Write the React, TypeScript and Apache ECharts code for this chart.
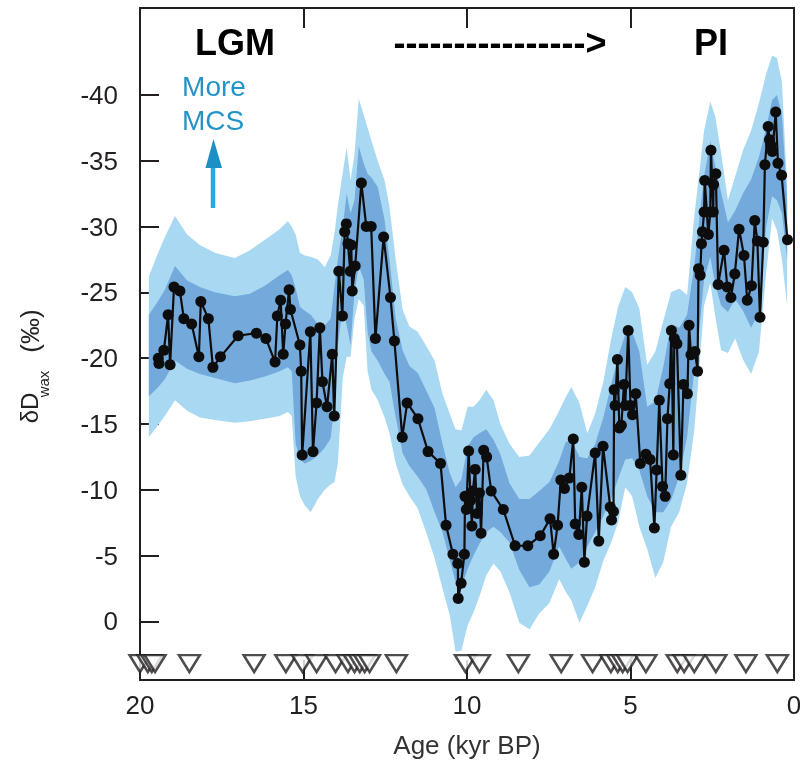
import React, { useEffect, useRef } from 'react';
import * as echarts from 'echarts';

const FONT = '"Liberation Sans", Arial, Helvetica, sans-serif';

// Uncertainty envelope (age in kyr BP) — 95% (light) and 68% (dark) bands
const bandAge = [19.73, 19.48, 19.24, 18.93, 18.56, 18.17, 17.71, 17.10, 16.64, 16.18, 15.73, 15.48, 15.36, 15.24, 15.11, 14.96, 14.78, 14.56, 14.35, 14.17, 14.05, 13.95, 13.80, 13.68, 13.56, 13.44, 13.31, 13.16, 13.04, 12.92, 12.73, 12.52, 12.37, 12.18, 11.97, 11.76, 11.51, 11.24, 10.99, 10.75, 10.53, 10.35, 10.17, 9.98, 9.80, 9.62, 9.41, 9.19, 8.98, 8.70, 8.40, 8.09, 7.79, 7.48, 7.18, 6.99, 6.81, 6.56, 6.32, 6.08, 5.83, 5.59, 5.37, 5.16, 4.95, 4.73, 4.49, 4.24, 4.00, 3.76, 3.51, 3.27, 3.05, 2.90, 2.75, 2.56, 2.41, 2.23, 2.02, 1.80, 1.56, 1.31, 1.07, 0.85, 0.67, 0.52, 0.37, 0.21];
const lightUpper = [-26.2, -27.8, -29.2, -30.8, -29.4, -28.6, -28.0, -27.6, -28.2, -29.0, -29.8, -30.4, -30.0, -29.4, -28.0, -27.8, -27.7, -27.5, -26.9, -27.8, -29.5, -31.6, -34.1, -36.0, -33.5, -35.5, -39.7, -38.5, -37.5, -36.5, -35.0, -33.5, -31.5, -27.5, -23.7, -22.4, -22.0, -20.9, -19.8, -17.3, -15.8, -14.6, -14.5, -16.3, -16.3, -16.8, -17.6, -16.8, -15.0, -13.5, -12.5, -12.6, -13.6, -14.6, -16.0, -17.0, -17.8, -16.6, -14.3, -15.8, -18.2, -21.5, -24.0, -25.4, -25.0, -23.8, -19.5, -20.5, -22.8, -25.0, -25.3, -24.8, -30.8, -34.0, -37.3, -39.5, -38.4, -35.6, -32.0, -33.8, -35.8, -37.3, -39.4, -41.6, -43.0, -42.8, -41.0, -33.0];
const darkUpper = [-23.3, -24.2, -25.2, -27.0, -25.9, -25.4, -25.0, -24.7, -24.9, -25.5, -26.3, -26.7, -26.3, -25.3, -23.9, -23.6, -23.3, -22.6, -22.5, -23.0, -25.5, -27.5, -30.0, -32.5, -31.0, -32.0, -36.1, -34.8, -34.0, -33.7, -33.0, -30.5, -27.5, -23.0, -20.6, -19.4, -18.9, -17.5, -16.2, -13.5, -11.3, -10.2, -10.8, -13.3, -14.0, -14.3, -14.6, -13.8, -12.7, -10.5, -9.3, -9.3, -9.9, -10.6, -12.2, -13.6, -13.8, -12.5, -12.4, -13.5, -15.5, -18.0, -20.2, -21.8, -22.0, -20.5, -16.3, -16.7, -19.3, -22.6, -22.3, -23.3, -27.0, -30.5, -33.8, -36.5, -34.6, -32.6, -30.3, -31.2, -32.5, -33.6, -35.3, -37.5, -39.6, -40.0, -38.5, -32.0];
const darkLower = [-17.1, -17.7, -18.4, -19.8, -19.2, -18.8, -18.5, -18.1, -18.3, -18.6, -19.0, -19.3, -19.0, -13.5, -12.3, -12.0, -12.2, -12.6, -13.2, -13.9, -16.5, -20.9, -23.9, -22.5, -21.0, -25.0, -27.0, -26.0, -22.0, -20.5, -19.8, -18.8, -18.2, -15.5, -12.8, -11.8, -11.0, -10.0, -8.3, -6.8, -4.7, -3.0, -2.6, -4.0, -5.0, -5.9, -6.8, -7.2, -6.8, -6.0, -3.9, -2.6, -2.8, -3.8, -5.7, -4.8, -4.0, -4.5, -5.7, -6.8, -8.0, -9.3, -10.9, -12.3, -12.4, -11.5, -9.5, -8.3, -8.3, -9.2, -11.0, -14.0, -19.0, -22.0, -26.0, -27.7, -25.6, -24.0, -23.5, -24.5, -23.6, -22.3, -23.5, -30.0, -32.3, -32.0, -31.0, -27.5];
const lightLower = [-14.0, -14.8, -15.6, -16.8, -16.0, -15.5, -15.3, -15.1, -15.2, -15.4, -15.6, -15.9, -15.6, -11.0, -9.5, -8.8, -8.3, -9.3, -10.0, -10.4, -10.6, -12.0, -18.5, -20.1, -20.1, -23.0, -24.5, -24.0, -19.0, -17.6, -16.8, -15.5, -14.3, -12.0, -10.4, -9.5, -8.6, -6.7, -4.8, -2.5, -0.5, 2.3, 2.2, 0.3, -0.7, -1.9, -3.5, -4.4, -3.8, -2.2, 0.1, 0.6, -0.6, -1.4, -3.2, -2.3, -1.6, 0.1, -1.2, -2.6, -4.6, -6.0, -7.6, -10.2, -9.5, -7.2, -5.5, -3.3, -4.5, -7.2, -8.3, -10.5, -14.5, -19.1, -24.0, -25.7, -23.2, -20.6, -20.4, -21.5, -19.9, -18.8, -20.5, -26.5, -30.6, -29.7, -27.5, -24.0];

// Measured dD wax samples
const sampleAge = [19.44, 19.42, 19.27, 19.14, 19.08, 18.96, 18.78, 18.66, 18.42, 18.20, 18.14, 17.91, 17.77, 17.54, 17.00, 16.44, 16.15, 15.87, 15.80, 15.70, 15.62, 15.55, 15.44, 15.40, 15.11, 15.07, 15.04, 14.79, 14.71, 14.60, 14.50, 14.42, 14.28, 14.12, 14.06, 13.92, 13.81, 13.74, 13.69, 13.64, 13.57, 13.54, 13.51, 13.42, 13.23, 13.08, 12.93, 12.80, 12.55, 12.34, 12.22, 11.98, 11.83, 11.50, 11.19, 10.81, 10.64, 10.43, 10.28, 10.27, 10.18, 10.08, 10.06, 10.02, 9.95, 9.89, 9.85, 9.82, 9.75, 9.69, 9.62, 9.57, 9.49, 9.40, 9.26, 8.89, 8.53, 8.14, 7.76, 7.46, 7.35, 7.23, 7.13, 7.02, 6.87, 6.75, 6.69, 6.58, 6.49, 6.41, 6.33, 6.08, 5.97, 5.84, 5.62, 5.58, 5.52, 5.50, 5.47, 5.40, 5.34, 5.28, 5.20, 5.16, 5.07, 5.00, 4.94, 4.84, 4.70, 4.53, 4.40, 4.27, 4.20, 4.12, 4.02, 3.94, 3.87, 3.80, 3.75, 3.69, 3.66, 3.58, 3.46, 3.38, 3.26, 3.21, 3.15, 3.03, 2.95, 2.92, 2.87, 2.83, 2.80, 2.75, 2.73, 2.62, 2.56, 2.54, 2.47, 2.46, 2.39, 2.32, 2.14, 2.04, 1.93, 1.81, 1.68, 1.53, 1.43, 1.30, 1.20, 1.12, 1.04, 0.94, 0.89, 0.79, 0.75, 0.71, 0.66, 0.56, 0.49, 0.38, 0.20];
const sampleDD = [-20.0, -19.6, -20.6, -23.3, -19.5, -25.4, -25.1, -23.0, -22.6, -20.1, -24.3, -23.0, -19.3, -20.1, -21.7, -21.9, -21.5, -19.7, -23.2, -24.4, -20.3, -22.6, -25.2, -23.7, -21.0, -19.0, -12.65, -22.0, -12.9, -16.6, -22.3, -18.2, -16.3, -20.3, -15.6, -26.6, -23.2, -29.6, -30.2, -28.7, -26.6, -28.6, -25.1, -27.0, -33.3, -30.0, -30.0, -21.5, -29.2, -24.6, -21.3, -14.0, -16.6, -15.4, -12.9, -12.0, -7.3, -5.1, -4.4, -1.75, -2.9, -5.1, -9.5, -8.5, -12.95, -9.2, -7.25, -9.9, -11.55, -8.2, -9.75, -6.7, -13.0, -12.5, -9.9, -8.5, -5.75, -5.75, -6.5, -7.8, -5.1, -7.3, -10.75, -10.1, -10.9, -13.85, -7.4, -6.6, -10.2, -4.5, -8.0, -12.8, -6.1, -13.3, -8.7, -7.7, -8.35, -17.6, -16.4, -19.9, -14.7, -14.9, -18.0, -16.4, -22.1, -16.4, -15.7, -17.3, -12.0, -12.7, -12.3, -7.1, -11.5, -16.8, -10.25, -9.5, -15.4, -18.05, -22.1, -12.65, -21.5, -21.1, -11.1, -18.0, -17.3, -22.5, -20.25, -20.5, -19.0, -26.8, -26.3, -28.7, -29.6, -31.1, -33.5, -29.4, -31.1, -35.8, -31.1, -33.2, -34.0, -25.6, -28.2, -25.4, -24.6, -26.4, -29.8, -27.8, -24.4, -25.5, -30.45, -28.9, -23.1, -28.8, -34.7, -37.6, -36.6, -36.2, -35.7, -38.7, -34.8, -33.9, -29.0];

// Age-control points (open triangles along the bottom)
const controlAge = [20.0, 19.76, 19.64, 19.54, 18.49, 16.51, 15.54, 15.03, 14.6, 14.02, 13.64, 13.44, 13.28, 13.13, 12.98, 12.16, 10.05, 9.62, 8.43, 7.12, 6.16, 5.6, 5.39, 5.24, 5.09, 4.53, 3.57, 3.36, 3.05, 2.39, 1.47, 0.51];
const controlRowValue = 3.2;

const yTickValues = [-40, -35, -30, -25, -20, -15, -10, -5, 0];
const yMin = -46.6;
const yMax = 4.45;

const AXIS_COLOR = '#231f20';
const LIGHT = '#a9d9f2';
const DARK = '#73a9db';

function bandSeries(name: string, upper: number[], lower: number[], color: string) {
  return {
    type: 'custom',
    name,
    coordinateSystem: 'cartesian2d',
    xAxisIndex: 0,
    yAxisIndex: 0,
    silent: true,
    data: bandAge.map((a, i) => [a, upper[i], lower[i]]),
    encode: { x: 0, y: [1, 2] },
    renderItem: (params: any, api: any) => {
      if (params.dataIndex !== 0) return null;
      const pts: number[][] = [];
      for (let i = 0; i < bandAge.length; i++) pts.push(api.coord([bandAge[i], upper[i]]));
      for (let i = bandAge.length - 1; i >= 0; i--) pts.push(api.coord([bandAge[i], lower[i]]));
      return { type: 'polygon', shape: { points: pts }, style: { fill: color } };
    },
  };
}

export default function App() {
  const ref = useRef<HTMLDivElement>(null);

  useEffect(() => {
    if (!ref.current) return;
    const chart = echarts.init(ref.current, null, { renderer: 'svg' });
    const txt = (x: number, y: number, text: string, font: string, fill: string, extra: any = {}) => ({
      type: 'text',
      x,
      y,
      ...extra,
      style: { text, font, fill, textAlign: 'center', textVerticalAlign: 'middle', align: 'center', verticalAlign: 'middle' },
    });
    chart.setOption({
      animation: false,
      textStyle: { fontFamily: FONT },
      grid: { left: 140, right: 6, top: 8, bottom: 83, outerBoundsMode: 'none', containLabel: false },
      xAxis: [
        {
          type: 'value', min: 0, max: 20, interval: 5, inverse: true, position: 'bottom',
          axisLine: { show: true, onZero: false, lineStyle: { color: AXIS_COLOR, width: 2 } },
          axisTick: { show: true, inside: true, length: 20, lineStyle: { color: AXIS_COLOR, width: 2 } },
          axisLabel: { fontSize: 26, color: AXIS_COLOR, margin: 12, fontFamily: FONT },
          splitLine: { show: false },
          name: 'Age (kyr BP)', nameLocation: 'middle', nameGap: 52,
          nameTextStyle: { fontSize: 26, color: '#333', fontFamily: FONT },
        },
        {
          type: 'value', min: 0, max: 20, interval: 5, inverse: true, position: 'top',
          axisLine: { show: true, onZero: false, lineStyle: { color: AXIS_COLOR, width: 2 } },
          axisTick: { show: true, inside: true, length: 20, lineStyle: { color: AXIS_COLOR, width: 2 } },
          axisLabel: { show: false },
          splitLine: { show: false },
        },
      ],
      yAxis: [
        {
          type: 'value', min: yMin, max: yMax, inverse: true, position: 'left',
          axisLine: { show: true, onZero: false, lineStyle: { color: AXIS_COLOR, width: 2 } },
          axisTick: { show: true, inside: true, length: 19, customValues: yTickValues, lineStyle: { color: AXIS_COLOR, width: 2 } },
          axisLabel: { customValues: yTickValues, fontSize: 26, color: AXIS_COLOR, margin: 22, fontFamily: FONT },
          splitLine: { show: false },
        },
        {
          type: 'value', min: yMin, max: yMax, inverse: true, position: 'right',
          axisLine: { show: true, onZero: false, lineStyle: { color: AXIS_COLOR, width: 2 } },
          axisTick: { show: false },
          axisLabel: { show: false },
          splitLine: { show: false },
        },
      ],
      series: [
        bandSeries('95%', lightUpper, lightLower, LIGHT),
        bandSeries('68%', darkUpper, darkLower, DARK),
        {
          type: 'line', name: 'dDwax', xAxisIndex: 0, yAxisIndex: 0,
          data: sampleAge.map((a, i) => [a, sampleDD[i]]),
          symbol: 'circle', symbolSize: 11, showAllSymbol: true,
          itemStyle: { color: '#0d0d0d' },
          lineStyle: { color: '#0d0d0d', width: 2.2 },
          z: 5,
        },
        {
          type: 'scatter', name: 'age control', xAxisIndex: 0, yAxisIndex: 0,
          data: controlAge.map((a) => [a, controlRowValue]),
          symbol: 'triangle', symbolRotate: 180, symbolSize: [21, 17],
          itemStyle: { color: '#ffffff', borderColor: AXIS_COLOR, borderWidth: 2.4 },
          z: 6,
        },
      ],
      graphic: [
        txt(235, 42, 'LGM', `bold 36px ${FONT}`, '#000'),
        txt(500, 42, '---------------->', `bold 36px ${FONT}`, '#000'),
        txt(711, 42, 'PI', `bold 36px ${FONT}`, '#000'),
        txt(214, 86, 'More', `28px ${FONT}`, '#2593c6'),
        txt(213, 120, 'MCS', `28px ${FONT}`, '#2593c6'),
        { type: 'line', shape: { x1: 213, y1: 208, x2: 213, y2: 165 }, style: { stroke: '#29a8de', lineWidth: 4.5 } },
        { type: 'polygon', shape: { points: [[213.5, 139], [205.5, 168], [222, 168]] }, style: { fill: '#1c8fc4' } },
        txt(29, 408, 'δD', `24px ${FONT}`, '#222', { rotation: Math.PI / 2 }),
        txt(43, 384, 'wax', `15px ${FONT}`, '#222', { rotation: Math.PI / 2 }),
        txt(30, 331, '(‰)', `26px ${FONT}`, '#222', { rotation: Math.PI / 2 }),
      ],
    });
    return () => chart.dispose();
  }, []);

  return <div ref={ref} style={{ position: 'fixed', left: 0, top: 0, width: 800, height: 763 }} />;
}
